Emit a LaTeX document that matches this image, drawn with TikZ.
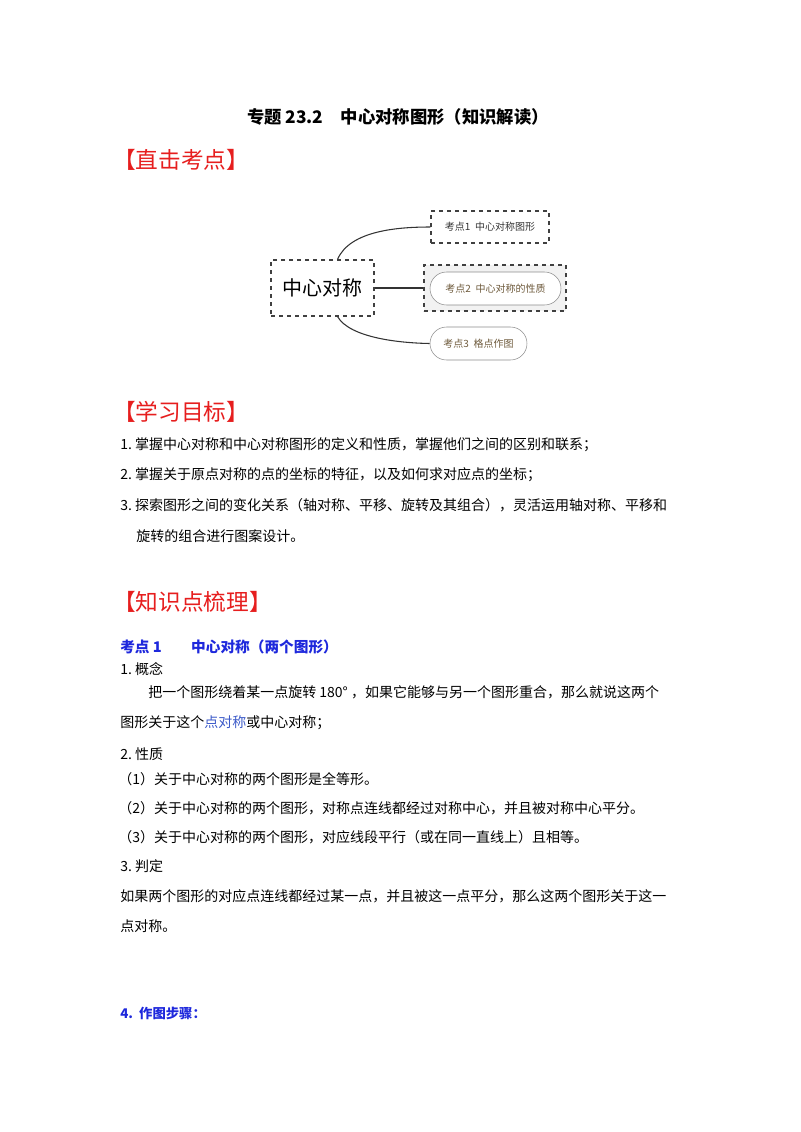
\documentclass[tikz,border=0pt]{standalone}
\usepackage{fontspec}
\setmainfont{Noto Sans CJK SC}
\usetikzlibrary{shapes.misc}
\definecolor{hred}{RGB}{230,30,30}
\definecolor{hblue}{RGB}{30,40,220}
\definecolor{lblue}{RGB}{60,90,200}
\definecolor{brn}{RGB}{110,90,60}
\tikzset{
 body/.style={anchor=west,inner sep=0pt,font=\fontsize{10.5}{12}\selectfont},
 head/.style={anchor=west,inner sep=0pt,text=hred,font=\fontsize{17}{19}\selectfont},
 dbox/.style={draw=black!75,dashed,thick,inner sep=0pt},
 pill/.style={draw=black!45,rounded rectangle,inner sep=0pt,text=brn,font=\fontsize{7.5}{8}\selectfont},
 link/.style={draw=black!80,thick}
}
\begin{document}
\begin{tikzpicture}[x=0.75pt,y=-0.75pt]
\useasboundingbox (0,0) rectangle (800,1132);
\node[inner sep=0pt,font=\fontsize{13}{15}\bfseries\selectfont] (title) at (398,117) {专题 23.2\quad 中心对称图形（知识解读）};
\node[head] (h1) at (113,160) {【直击考点】};
% mind map
\node[dbox,minimum width=103*0.75pt,minimum height=56*0.75pt,font=\fontsize{15}{17}\selectfont] (m) at (322.5,288) {中心对称};
\node[dbox,minimum width=118*0.75pt,minimum height=32*0.75pt,font=\fontsize{7.5}{8}\selectfont,text=black!80] (k1) at (490,227) {考点1\ \ 中心对称图形};
\node[dbox,fill=black!5,minimum width=142*0.75pt,minimum height=46*0.75pt] (k2o) at (495,288) {};
\node[pill,fill=white,minimum width=131*0.75pt,minimum height=33*0.75pt] (k2) at (495.5,288.5) {考点2\ \ 中心对称的性质};
\node[pill,minimum width=97*0.75pt,minimum height=33*0.75pt] (k3) at (478.5,343.5) {考点3\ \ 格点作图};
\draw[link] (m.north) ++(15,0) coordinate (a1) .. controls (350,230) and (400,227) .. (k1.west);
\draw[link] (m.east) -- (k2o.west);
\draw[link] (m.south) ++(15,0) coordinate (a3) .. controls (350,338) and (400,343) .. (k3.west);
\node[head] (h2) at (113,412) {【学习目标】};
\node[body] (g1) at (120,445) {1.\ 掌握中心对称和中心对称图形的定义和性质，掌握他们之间的区别和联系；};
\node[body] (g2) at (120,475) {2.\ 掌握关于原点对称的点的坐标的特征，以及如何求对应点的坐标；};
\node[body] (g3) at (120,505) {3.\ 探索图形之间的变化关系（轴对称、平移、旋转及其组合），灵活运用轴对称、平移和};
\node[body] (g4) at (136,536) {旋转的组合进行图案设计。};
\node[head] (h3) at (113,602) {【知识点梳理】};
\node[body,text=hblue,font=\fontsize{11}{13}\bfseries\selectfont] (k1t) at (120,647) {考点 1\qquad 中心对称（两个图形）};
\node[body] (c1) at (120,669) {1.\ 概念};
\node[body] (c2) at (148,692) {把一个图形绕着某一点旋转 180° ，如果它能够与另一个图形重合，那么就说这两个};
\node[body] (c3) at (120,723) {图形关于这个\textcolor{lblue}{点对称}或中心对称；};
\node[body] (p0) at (120,754) {2.\ 性质};
\node[body] (p1) at (118,779) {（1）关于中心对称的两个图形是全等形。};
\node[body] (p2) at (118,808) {（2）关于中心对称的两个图形，对称点连线都经过对称中心，并且被对称中心平分。};
\node[body] (p3) at (118,837) {（3）关于中心对称的两个图形，对应线段平行（或在同一直线上）且相等。};
\node[body] (j0) at (120,866) {3.\ 判定};
\node[body] (j1) at (120,896) {如果两个图形的对应点连线都经过某一点，并且被这一点平分，那么这两个图形关于这一};
\node[body] (j2) at (120,926) {点对称。};
\node[body,text=hblue,font=\fontsize{10}{12}\bfseries\selectfont] (s4) at (120,1013) {4.\ \ 作图步骤：};
\end{tikzpicture}
\end{document}
